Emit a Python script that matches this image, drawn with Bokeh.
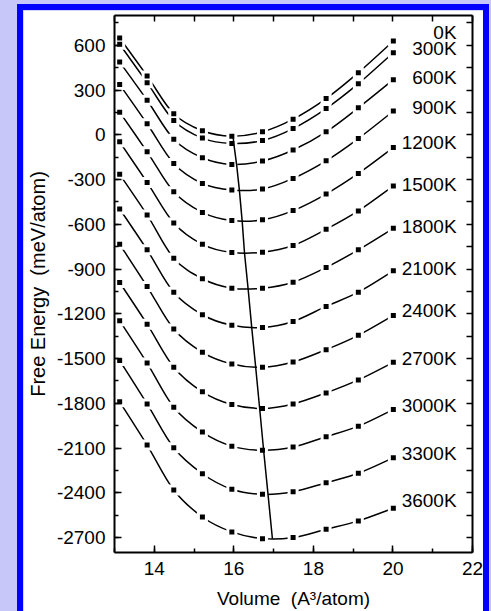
from bokeh.plotting import figure
from bokeh.layouts import column
from bokeh.models import (ColumnDataSource, LinearAxis, SingleIntervalTicker,
                          FixedTicker, Range1d, LabelSet)
from bokeh.core.properties import value
from bokeh.embed import file_html
from bokeh.resources import INLINE

# Volumes at which the free energy was evaluated (A^3/atom)
volume = [13.13, 13.82, 14.49, 15.21, 15.95, 16.72, 17.49, 18.32, 19.13, 20.01]

temperature_labels = ["0K", "300K", "600K", "900K", "1200K", "1500K", "1800K",
                      "2100K", "2400K", "2700K", "3000K", "3300K", "3600K"]

# Free energy (meV/atom) for each temperature, one value per volume
f_0K    = [649, 395, 141, 27, -9, 20, 105, 243, 417, 629]
f_300K  = [607, 350, 96, -22, -58, -38, 42, 176, 343, 551]
f_600K  = [488, 232, -29, -154, -199, -176, -102, 20, 181, 370]
f_900K  = [337, 74, -192, -326, -370, -363, -292, -174, -25, 159]
f_1200K = [152, -114, -381, -520, -575, -570, -508, -397, -259, -85]
f_1500K = [-47, -319, -591, -734, -789, -787, -742, -633, -510, -343]
f_1800K = [-265, -537, -827, -965, -1028, -1028, -988, -889, -771, -627]
f_2100K = [-497, -771, -1055, -1206, -1277, -1291, -1251, -1150, -1055, -912]
f_2400K = [-734, -1017, -1302, -1458, -1536, -1558, -1523, -1440, -1344, -1211]
f_2700K = [-990, -1269, -1558, -1723, -1808, -1834, -1804, -1730, -1643, -1525]
f_3000K = [-1246, -1530, -1826, -1993, -2087, -2115, -2093, -2024, -1953, -1841]
f_3300K = [-1513, -1804, -2098, -2272, -2376, -2410, -2392, -2332, -2269, -2165]
f_3600K = [-1790, -2080, -2381, -2562, -2662, -2707, -2700, -2644, -2588, -2503]

energies = [f_0K, f_300K, f_600K, f_900K, f_1200K, f_1500K, f_1800K,
            f_2100K, f_2400K, f_2700K, f_3000K, f_3300K, f_3600K]

# Equilibrium (minimum) volume and energy for each temperature
eq_volume = [15.98, 16.00, 16.07, 16.14, 16.21, 16.27, 16.36,
             16.45, 16.55, 16.65, 16.75, 16.86, 16.97]
eq_energy = [-5, -60, -200, -372, -580, -797, -1035,
             -1292, -1560, -1836, -2118, -2412, -2708]

# Position of each temperature label (energy axis)
label_x = 21.6
label_y = [686, 579, 384, 183, -51, -333, -615, -896, -1178, -1500, -1815,
           -2137, -2451]

y_ticks = list(range(-2700, 601, 300))

LAVENDER = "#c7c7f9"
BLUE = "#0000ff"
EDGE = 6

# The blue edge sits inside the element box; the canvas keeps the full size
# and is clipped to the area inside the edge.
p = figure(width=472, height=607,
           x_range=Range1d(13, 22), y_range=Range1d(-2800, 800),
           output_backend="svg", toolbar_location=None,
           min_border_left=90, min_border_right=23,
           min_border_top=5, min_border_bottom=65,
           border_fill_color="white", background_fill_color="white",
           margin=(4, 0, 0, 17),
           styles={"border-top": f"{EDGE}px solid {BLUE}",
                   "border-left": f"{EDGE}px solid {BLUE}",
                   "border-right": f"{EDGE}px solid {BLUE}"})
p.grid.visible = False
p.outline_line_color = None

xticker = SingleIntervalTicker(interval=2, num_minor_ticks=2)
yticker = SingleIntervalTicker(interval=300, num_minor_ticks=2)


def style_axis(ax):
    ax.axis_line_width = 2
    ax.major_tick_line_width = 1.5
    ax.minor_tick_line_width = 1.5
    ax.major_tick_in = 7
    ax.major_tick_out = 0
    ax.minor_tick_in = 4
    ax.minor_tick_out = 0
    ax.major_label_text_font = "Liberation Sans"
    ax.major_label_text_font_size = "19px"
    ax.major_label_text_color = "black"
    ax.axis_label_text_font = "Liberation Sans"
    ax.axis_label_text_font_style = "normal"
    ax.axis_label_text_color = "black"


xb = p.xaxis[0]
xb.ticker = xticker
style_axis(xb)
xb.major_label_standoff = 9
xb.axis_label = "Volume\u00a0 (A\u00b3/atom)"
xb.axis_label_text_font_size = "19px"
xb.axis_label_standoff = 10

yl = p.yaxis[0]
yl.ticker = yticker
style_axis(yl)
yl.major_label_standoff = 9
yl.major_label_overrides = {t: str(t) for t in y_ticks}
yl.axis_label = "Free Energy\u00a0 (meV/atom)"
yl.axis_label_text_font_size = "20px"
yl.axis_label_standoff = 5

# Top and right edges carry unlabelled inward ticks only
xt = LinearAxis(ticker=FixedTicker(ticks=[], minor_ticks=list(range(13, 23))))
style_axis(xt)
xt.minor_tick_in = 6
xt.major_label_standoff = 0
p.add_layout(xt, "above")

yr = LinearAxis(ticker=FixedTicker(ticks=[],
                                   minor_ticks=list(range(-2700, 751, 150))))
style_axis(yr)
yr.minor_tick_in = 6
yr.major_label_standoff = 0
p.add_layout(yr, "right")


def smooth_segments(xs, ys):
    """Cubic Bezier pieces (Catmull-Rom) passing through every point."""
    n = len(xs)
    out = dict(x0=[], y0=[], x1=[], y1=[], cx0=[], cy0=[], cx1=[], cy1=[])
    for i in range(n - 1):
        a = max(i - 1, 0)
        d = min(i + 2, n - 1)
        out["x0"].append(xs[i])
        out["y0"].append(ys[i])
        out["x1"].append(xs[i + 1])
        out["y1"].append(ys[i + 1])
        out["cx0"].append(xs[i] + (xs[i + 1] - xs[a]) / 6)
        out["cy0"].append(ys[i] + (ys[i + 1] - ys[a]) / 6)
        out["cx1"].append(xs[i + 1] - (xs[d] - xs[i]) / 6)
        out["cy1"].append(ys[i + 1] - (ys[d] - ys[i]) / 6)
    return out


# Curves
curves = dict(x0=[], y0=[], x1=[], y1=[], cx0=[], cy0=[], cx1=[], cy1=[])
for row in energies:
    seg = smooth_segments(volume, row)
    for k in curves:
        curves[k].extend(seg[k])
p.bezier(x0="x0", y0="y0", x1="x1", y1="y1", cx0="cx0", cy0="cy0",
         cx1="cx1", cy1="cy1", source=ColumnDataSource(curves),
         line_color="black", line_width=1.5)

# White pads leave a small gap in each curve around its markers
pts_x = [v for _ in energies for v in volume]
pts_y = [e for row in energies for e in row]
p.scatter(pts_x, pts_y, marker="square", size=11,
          fill_color="white", line_color=None)

# Locus of the free-energy minima
p.line(eq_volume, eq_energy, line_color="black", line_width=1.5)

p.scatter(pts_x, pts_y, marker="square", size=5,
          fill_color="black", line_color=None)

# Temperature labels beside the last point of each curve
labels = ColumnDataSource(dict(x=[label_x] * len(label_y), y=label_y,
                               text=temperature_labels))
p.add_layout(LabelSet(x="x", y="y", text="text", source=labels,
                      text_align="right", text_baseline="middle",
                      text_font=value("Liberation Sans"),
                      text_font_size=value("19px"),
                      text_color="black"))

page = column(p, width=491, height=611,
              styles={"background-color": LAVENDER, "overflow": "hidden"})

open("out.html", "w").write(file_html(page, INLINE))
